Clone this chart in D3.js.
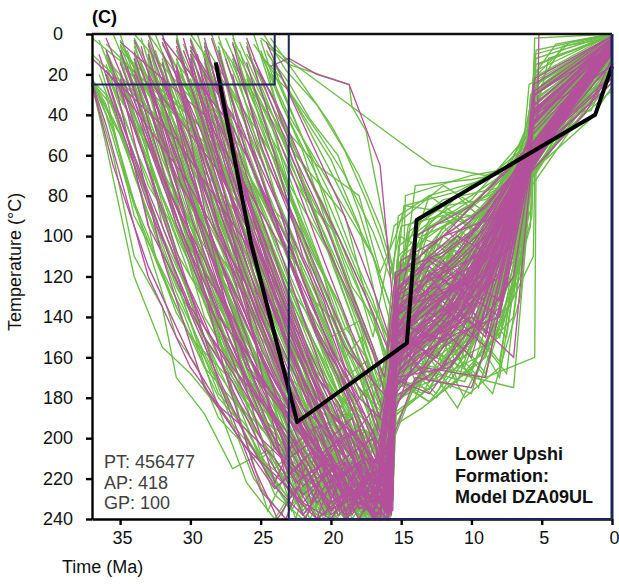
<!DOCTYPE html>
<html lang="en">
<head>
<meta charset="utf-8">
<title>Lower Upshi Formation: Model DZA09UL</title>
<script src="https://cdn.jsdelivr.net/npm/d3@7"></script>
<style>
  body { margin: 0; background: #fff; }
  svg { display: block; font-family: "Liberation Sans", Arial, sans-serif; }
  .axis path, .axis line { stroke: #000; stroke-width: 2.4px; }
  .axis text { font-size: 18px; fill: #111; }
  .tpath { fill: none; stroke-width: 1.35px; stroke-linejoin: miter; }
</style>
</head>
<body>
<div id="chart"></div>
<script>
// time in Ma, temperature in degC; each path is a flat list t,T,t,T,...
// paths start at a node inside the first constraint box
var xTicks = [35, 30, 25, 20, 15, 10, 5, 0];
var yTicks = [0, 20, 40, 60, 80, 100, 120, 140, 160, 180, 200, 220, 240];

// constraint boxes [tOld, tYoung, Tlow, Thigh]
var box1 = [37, 24, 0, 25];
var box2 = [23, 0, 0, 240];

var stats = ["PT: 456477", "AP: 418", "GP: 100"];
var modelLabel = ["Lower Upshi", "Formation:", "Model DZA09UL"];

var bestPath = [28.2,14, 25.7,103, 22.4,192, 14.6,153, 13.9,92, 1.2,40, 0,16];

// acceptable paths (green)
var acceptable = [
  [37,22, 35.5,48, 34,85, 32,120, 30,150, 27,172, 24,205, 21,228, 19,214, 17,236, 15.6,226, 15.3,150, 13.5,168, 12,128, 10.5,150, 9,96, 6,64, 5.8,40, 0,4],
  [33,4, 31,60, 29,92, 26,140, 24,176, 22,220, 20,198, 18.5,234, 16.2,212, 15.5,140, 13,160, 11.5,105, 10,118, 7.5,92, 6.2,70, 5.9,38, 0,2],
  [32,12, 30,70, 28,110, 25,130, 23,185, 21,210, 19.5,232, 17,224, 15.7,238, 15.4,168, 13.5,120, 12,100, 8,120, 6,60, 5.5,30, 0,5],
  [29,8, 27,65, 25,118, 23,150, 21,200, 19,188, 17.5,226, 16,215, 15.2,140, 13.5,118, 12,150, 10,95, 8.5,125, 6.1,55, 0,3],
  [35,10, 33,45, 31,95, 28,128, 25,185, 22,204, 20,236, 18,225, 15.8,238, 15.4,160, 13,130, 11,172, 8,112, 6,75, 5.7,45, 0,8],
  [37,24, 36,40, 34.5,75, 33,100, 31,138, 29,160, 26,200, 23,230, 21,212, 19,238, 16,222, 15.6,165, 13,135, 11,150, 8.5,118, 5.8,80, 5.5,48, 0,10],
  [34,2, 32,30, 30,40, 28,88, 26,120, 23,170, 21,182, 19,215, 17.6,196, 15.6,205, 15.1,120, 12,140, 8,90, 6,58, 4.5,12, 0,1],
  [32,15, 30,52, 29,75, 27,110, 25,140, 22,190, 20.5,222, 18.8,200, 17,228, 15.9,232, 15.5,175, 14,165, 12.5,128, 10,125, 6.2,62, 5.6,42, 0,4],
  [29,24, 27,80, 25,100, 24,135, 22,150, 20,180, 18,168, 16.2,210, 15.4,150, 12,115, 10,150, 8,100, 6,65, 0,6],
  [26,4, 24,50, 22,100, 20.5,120, 19,160, 17.8,150, 16.5,195, 15,130, 13,95, 9,88, 6.1,48, 0,2],
  [25,10, 23,40, 20,75, 17,110, 15.5,140, 14,100, 10,82, 6,50, 5.2,20, 0,0],
  [27,2, 25,30, 22.5,60, 19,90, 17.5,130, 16,160, 14.8,85, 11,78, 6,60, 5.5,35, 0,3],
  [30,18, 28,70, 26.5,98, 25,120, 22,165, 20,210, 18,200, 16.2,236, 15.8,180, 13,140, 11,112, 8,135, 6,70, 5.8,50, 0,5],
  [33,22, 31,85, 29.5,118, 28,150, 25.5,190, 24,215, 22,202, 20,240, 18,220, 16,225, 15.3,180, 12,165, 8,150, 5.7,90, 5.6,55, 0,12],
  [35,3, 33,30, 31,50, 29,110, 26,165, 23,210, 21,195, 18,236, 15.8,215, 15.6,140, 13,118, 11.5,145, 10,105, 6.1,62, 0,7],
  [37,25, 35.5,60, 34,110, 32,135, 31,170, 29,188, 27,215, 24.5,206, 22,238, 19.5,218, 17.5,228, 15.7,190, 12,170, 9,142, 6,75, 5.7,40, 0,3],
  [28,6, 26,60, 24.5,88, 23,110, 21,150, 20,165, 18.5,185, 17,205, 15.2,160, 13,120, 11,160, 8.5,110, 6,58, 0,1],
  [31,4, 28,50, 26.5,70, 25,95, 23.5,128, 22,150, 19,190, 17.5,176, 16,205, 15.5,125, 12,140, 9,105, 6.3,52, 5.8,35, 0,2],
  [24.5,18, 23.5,45, 21,65, 18,80, 16.5,118, 15.4,100, 14.7,85, 10,90, 6.2,65, 5.6,45, 0,6],
  [24.5,6, 23,15, 18.7,25, 18.5,36, 17.5,48, 15.5,120, 14,95, 10,75, 6,60, 5.6,38, 0,4],
  [25,2, 23,13, 14.4,57, 12.8,65, 9,70, 6.1,63, 5.8,30, 0,3],
  [30,20, 28,40, 27,55, 25,80, 23,95, 21.5,130, 20,140, 17,185, 15.6,175, 15.2,110, 11,80, 8,100, 6,58, 0,5],
  [34,18, 32,62, 30,95, 27,140, 25,165, 23,200, 21,218, 19,232, 16.8,220, 15.9,236, 15.5,150, 12,132, 6,72, 5.6,52, 0,9],
  [33,12, 30,65, 28,90, 26,120, 24,150, 22,175, 20,190, 18,212, 16,240, 15.5,200, 13,155, 10,168, 7,100, 5.9,60, 0,2],
  [32,2, 29,45, 27.5,62, 26,90, 24,118, 23,140, 21,172, 20,185, 18.5,205, 16.8,230, 15.4,135, 12,130, 9,148, 6,70, 0,5],
  [37,23, 36,30, 34,90, 32.5,110, 31,135, 28,180, 26,196, 24,220, 22,212, 20,236, 18,224, 16,236, 15.7,165, 10,130, 5.9,68, 5.5,40, 0,4],
  [34,6, 31,55, 29.5,72, 28,100, 25,150, 23,170, 21,195, 19,188, 17,225, 15.6,170, 14.5,115, 9,125, 6,60, 0,1],
  [29,14, 27,65, 25,110, 23.5,128, 22,160, 20,175, 18.5,205, 15.8,190, 15.5,140, 12,110, 9,92, 6,55, 5,25, 0,0],
  [33,10, 31,65, 29.5,98, 28,130, 25,190, 22,205, 20,228, 18.5,212, 17,240, 16,210, 15.6,150, 12,142, 9,170, 5.5,160, 5.4,60, 0,8],
  [27,12, 25,60, 23.5,90, 22,130, 20.5,150, 19,175, 17.8,168, 16.5,220, 15.3,175, 13,170, 10,178, 8,130, 6,75, 0,3],
  [35,20, 32,80, 30.5,104, 29,140, 26,175, 24,190, 22,215, 20,204, 18,238, 15.9,235, 15.7,180, 14,150, 11.5,175, 7,140, 5.7,70, 0,6],
  [30,3, 28,40, 26,80, 24.5,100, 23,125, 21.5,140, 20,165, 18.5,178, 17,200, 15.5,160, 14,120, 10,108, 6.2,48, 5.9,25, 0,1],
  [31,22, 29.5,58, 28,95, 26,128, 24,165, 21,215, 19.5,200, 18,240, 16.8,218, 15.6,225, 15.2,165, 12,140, 9,118, 6,62, 5.5,35, 0,5],
  [36,15, 33,75, 31.5,92, 30,120, 28,138, 26,160, 23,190, 21,205, 19,220, 17.5,212, 16,235, 15.6,190, 13,175, 8,120, 5.8,75, 5.6,50, 0,11],
  [26,22, 24.5,48, 22,80, 19.5,100, 18,126, 17,150, 15.5,95, 12,75, 9,88, 6,50, 5.5,25, 0,2],
  [37,24, 35,50, 33.5,78, 32.5,110, 30.5,138, 29,165, 26.5,185, 24,200, 21,230, 19,216, 17,232, 15.6,205, 15.2,140, 11,100, 8.5,118, 6,66, 0,7],
  [33,0, 30,30, 28.5,58, 27,90, 24,150, 22.5,170, 21,200, 19.5,188, 18.5,236, 15.8,225, 15.4,130, 13,80, 10,95, 6,60, 5.6,30, 0,3],
  [34,8, 32,48, 30,85, 28,112, 26,145, 23,185, 21,196, 19,215, 17.5,205, 15.9,200, 15.6,155, 14,165, 10.5,172, 6.5,120, 5.8,60, 0,2],
  [32,18, 30.5,50, 29,90, 26,130, 24,160, 22,180, 20,210, 18,230, 16.2,222, 15.4,160, 11.5,110, 9,132, 6,62, 0,4],
  [28,1, 26,45, 24,90, 22.5,108, 21,130, 19.5,160, 18,175, 16,190, 15.3,120, 13.5,140, 10,120, 7,75, 5.9,40, 0,1],
  [37,22, 36,35, 33.5,95, 31,150, 29.5,165, 28,190, 25,212, 23,230, 20.5,218, 18,236, 15.8,240, 15.6,170, 12.5,150, 9,112, 6,70, 5.7,42, 0,6],
  [30,8, 27,70, 25.5,105, 24,140, 22,165, 20,200, 18.5,188, 17,225, 15.7,212, 15.3,150, 12,162, 9.5,130, 6,57, 0,3],
  [31,20, 29,60, 27.5,85, 26,115, 24.5,140, 23,175, 20,220, 18,208, 16.5,235, 15.5,180, 12,165, 9,140, 6.3,85, 5.8,55, 0,8],
  [35,5, 32,40, 30.5,66, 29,95, 26,155, 24,178, 22,200, 19.5,190, 17.5,220, 15.6,160, 13,105, 10,128, 6,64, 5.2,15, 0,0],
  [29,10, 27,50, 24,100, 22,118, 20,150, 18,142, 16.5,175, 15,110, 11,90, 8,112, 6.1,60, 0,5],
  [34,14, 31,75, 28,135, 25,170, 23,188, 21,205, 18,225, 16.2,215, 15.6,145, 12,125, 8,150, 5.8,95, 5.7,60, 0,5],
  [37,25, 36,55, 34,120, 32,155, 30,168, 28,185, 25,210, 22.5,225, 20,235, 18,214, 16,228, 15.4,175, 13,150, 10,138, 6,70, 0,9],
  [33,25, 31.5,70, 30,105, 28.5,130, 27,160, 25,182, 23,210, 21,228, 19,238, 17.8,222, 16.5,240, 15.8,195, 13.5,185, 9,160, 5.7,85, 5.5,45, 0,6],
  [25,3, 23.5,35, 21,70, 19.5,95, 18,120, 16,150, 15.2,90, 13,80, 9,72, 6,55, 5.3,28, 0,2],
  [27,5, 24.5,40, 22,90, 20.5,118, 19,145, 17.5,160, 16.5,185, 15.6,140, 14,100, 10,110, 6,60, 0,4],
  [33,3, 30,55, 27,120, 25.5,150, 24,180, 21,225, 19.5,210, 17.5,240, 15.7,230, 15.5,160, 14,150, 10,155, 6,72, 5.6,40, 0,3],
  [36,10, 33,65, 31.5,88, 30,115, 27,170, 24,200, 22,238, 20,222, 17,230, 16,200, 15.3,130, 11,118, 7.5,100, 5.9,60, 0,7],
  [30,14, 28,80, 26.5,110, 25,145, 22,195, 20.5,208, 18,215, 15.8,222, 15.5,170, 12,150, 9.5,175, 6.5,110, 5.8,65, 0,5],
  [31,8, 28,60, 26.5,92, 25,125, 23,158, 21,185, 18.5,200, 17,228, 16,236, 15.4,140, 12,95, 9,118, 6,58, 5.4,25, 0,1],
  [35,12, 33,52, 31,90, 28,145, 25.5,168, 23,190, 21.5,214, 20,232, 17,238, 15.9,210, 15.5,155, 14.5,110, 10,132, 6,65, 0,6],
  [34,24, 32,72, 30,110, 27,165, 25.5,180, 24,205, 21.5,218, 19,228, 17.5,215, 16,238, 15.6,185, 11,145, 6.1,70, 5.5,35, 0,4],
  [28,18, 26,75, 23,130, 21.5,150, 20,175, 18,190, 16.8,210, 15.5,165, 14,130, 11,150, 8,105, 6,62, 0,3],
  [24.2,20, 23,28, 21,55, 19.5,75, 17,110, 15,150, 14.7,80, 10,70, 6,65, 5.5,40, 0,4],
  [33,17, 30,60, 28,82, 26,110, 23,160, 21.5,180, 20,210, 18,198, 16.5,230, 15.6,185, 13,165, 11,185, 8,145, 5.6,110, 5.5,70, 0,10],
  [32,5, 29,40, 27.5,72, 26,100, 24,130, 22,165, 19,205, 17.5,196, 16,220, 15.2,145, 12.5,120, 9,100, 6,60, 0,2],
  [30,2, 27,55, 25.5,88, 24,120, 22,158, 20,190, 18.5,178, 17,225, 15.6,170, 13.5,178, 12,160, 10.5,180, 8,165, 6,70, 0,5],
  [34,24, 32,95, 29,150, 27,170, 25,195, 23,210, 21,236, 19,220, 17.5,238, 16,232, 15.6,200, 15.3,160, 11,168, 7,175, 5.6,60, 0,2],
  [31,12, 28,70, 25,130, 23,152, 21,170, 18,195, 15.8,205, 15.5,130, 12.5,110, 10,100, 5.7,48, 5.5,2, 0,0],
  [36,20, 34,70, 31,125, 29,150, 27,180, 25,200, 23,220, 21,210, 19,240, 17.5,226, 15.9,228, 15.6,165, 13,125, 9,95, 6,60, 5.4,15, 0,1],
  [29,5, 26,40, 24.5,65, 23,85, 20,135, 18.5,158, 17,180, 15.4,150, 14,120, 12,165, 9,170, 6,65, 0,3],
  [37,24, 35,40, 32,100, 30,130, 28,160, 25,210, 23,200, 21,225, 19,215, 17,240, 15.6,210, 15.4,120, 12,135, 8,95, 6,60, 0,5],
  [32,10, 29,70, 27.5,100, 26,135, 24,170, 22,200, 20,215, 18,232, 16.2,238, 15.5,155, 12.8,140, 9,125, 6.2,60, 5.9,42, 0,8],
  [27,24, 25,70, 23.5,95, 22,120, 20.5,145, 19,170, 17.5,162, 16,185, 15.3,115, 12,110, 9,130, 6,70, 0,6],
  [36,12, 33,55, 30,100, 28.5,125, 27,150, 24,195, 22,205, 20,220, 18,210, 16.3,225, 15.7,180, 14,140, 10,122, 6,66, 5.8,32, 0,3],
  [33,8, 31,65, 28,120, 26,150, 24,175, 22,196, 20,215, 18.5,200, 17,236, 15.5,195, 13,160, 10,140, 6.8,90, 5.9,50, 0,4],
  [24.8,12, 23.5,22, 22,40, 20,62, 18,95, 16.5,140, 15.2,165, 12,125, 9,110, 6.2,68, 5.7,45, 0,5],
  [24.6,8, 22.8,30, 21,48, 19,70, 17,98, 15.8,120, 15,95, 11,88, 7,72, 6,55, 5.6,36, 0,3],
  [25.5,15, 24,38, 22,65, 20,95, 18.5,125, 17,140, 15.5,178, 13,150, 10,125, 6,62, 0,4],
  [26,10, 24,32, 22.5,58, 20.5,85, 19,112, 17.5,135, 15.7,165, 14.5,130, 11,155, 8,120, 6,68, 5.8,44, 0,6],
  [25,25, 23.3,55, 21.5,88, 19.5,118, 17.5,150, 16,172, 15.4,135, 12,98, 9,80, 6,58, 0,2],
  [35,6, 33,38, 31.5,58, 30,80, 28,115, 26,138, 24,168, 22,190, 20,182, 18,218, 16,205, 15.4,172, 13,182, 10,165, 7,130, 5.9,72, 5.6,46, 0,7],
  [34,15, 32,55, 30,95, 28,125, 26,158, 24,186, 22,222, 20,240, 18,232, 16.4,240, 15.8,170, 12,145, 8,120, 6,64, 0,3],
  [31,12, 29,50, 27,82, 25,115, 23,142, 21,176, 19,196, 17,214, 15.7,200, 15.4,145, 13,105, 9,85, 6,56, 5.5,22, 0,1],
  [37,24, 35.5,42, 33.5,72, 32,104, 30,142, 28,178, 26,194, 24,228, 22,240, 20,225, 18,235, 16,228, 15.7,160, 14,125, 10,150, 6.5,95, 5.8,58, 0,5],
  [35,18, 33,60, 31,108, 29,132, 27,162, 25,178, 23,198, 21,186, 19,222, 17,216, 15.8,224, 15.5,135, 12,155, 9,120, 6,66, 0,4],
  [36.5,3, 35,30, 33,62, 31,100, 29,128, 27,158, 25,190, 23,215, 21,238, 19,222, 17,238, 15.6,212, 15.4,148, 13,128, 11,165, 9,130, 6,72, 5.5,20, 4,5, 0,0],
  [35.5,0, 34,25, 32,58, 29.5,90, 27,135, 24.5,170, 22,208, 20,196, 18,226, 16,240, 15.5,168, 14,108, 12,138, 9.5,92, 6,58, 0,6],
  [34.5,8, 33,35, 31,72, 28,108, 26,132, 24,162, 22,184, 20,220, 18.5,205, 16.5,228, 15.6,176, 13,148, 10.5,115, 8,150, 6,76, 5.6,48, 0,12],
  [32.5,0, 31,28, 29,62, 27,98, 25,136, 23,178, 21,206, 19,240, 17.5,212, 15.8,226, 15.3,118, 12,90, 9,108, 6.2,62, 5.5,28, 3.5,6, 0,2],
  [30.5,5, 29,32, 27,58, 25,96, 23,128, 21,162, 19,186, 17.5,200, 16,232, 15.4,158, 12.5,178, 10,146, 7.5,168, 6,80, 5.7,58, 0,15],
  [29.5,12, 28,38, 26,72, 24,108, 22,142, 20,168, 18,205, 16.5,214, 15.5,145, 13,135, 11,98, 8,88, 6,52, 5.4,12, 0,0],
  [28.5,0, 27,30, 25,62, 23,95, 21,128, 19.5,152, 18,180, 16.5,170, 15.6,196, 15.2,105, 12,88, 9,100, 6,60, 0,4],
  [27.5,9, 26,35, 24,68, 22,104, 20,138, 18,168, 16.8,196, 15.6,182, 15.3,125, 13,92, 10,80, 7,66, 6,48, 5.5,30, 0,3],
  [26.5,16, 25,42, 23,78, 21,112, 19,140, 17.5,172, 16,200, 15.5,150, 13,160, 11,120, 8,135, 6,70, 0,8],
  [36,8, 34,40, 32,68, 30,112, 28,152, 26,182, 24,196, 22,226, 20,214, 18,240, 16,218, 15.6,182, 14,176, 11,136, 8,162, 6,78, 5.6,52, 0,9],
  [31.5,25, 30,52, 28,92, 26,120, 24,155, 22,192, 20,206, 18,196, 16.5,220, 15.4,130, 13,112, 10,138, 7,96, 6,62, 5.4,18, 0,0],
  [36,18, 34,55, 32,88, 30,132, 28,168, 26,188, 24,212, 22,234, 20,226, 17.5,236, 15.7,220, 15.5,160, 12,118, 9,105, 6,62, 0,5],
  [33.5,15, 32,42, 30,78, 28,118, 26,148, 24,184, 22,198, 20,212, 18,240, 16,226, 15.4,165, 13,128, 10.5,165, 8,118, 6.1,70, 0,7],
  [24.3,2, 22.5,20, 20,45, 18,70, 16.5,95, 15,130, 14,75, 10,72, 7,68, 6,60, 5.6,22, 3,4, 0,0],
  [29,20, 27.5,48, 25.5,82, 23.5,118, 21.5,148, 19.5,178, 17.5,192, 16,210, 15.3,140, 13,168, 10,150, 7,110, 6,68, 0,4],
  [24.5,10, 23,24, 21.5,42, 19.5,60, 18,88, 16.8,115, 15.6,148, 14.8,120, 12,96, 9,78, 6,62, 5.5,40, 1.5,38, 0,14],
  [25.5,5, 24,20, 22,52, 20,80, 18.5,108, 17,132, 15.8,158, 15.2,125, 13,140, 11,102, 8,115, 6,66, 0,18],
  [26,20, 24.5,42, 22.5,70, 20.5,98, 19,122, 17.5,148, 16.2,175, 15.5,132, 12.5,118, 10,136, 6.5,90, 5.8,55, 0,10],
  [24.8,0, 23.2,18, 21,35, 19,58, 17.5,82, 16.5,100, 15.2,128, 14.5,95, 12,82, 8,76, 6,64, 5.5,10, 0,0],
  [27,15, 25.5,38, 23.5,72, 21.5,105, 19.5,132, 18,160, 16.5,185, 15.6,165, 15.2,118, 12.5,135, 9,102, 6,60, 0,20],
  [25,8, 23.8,30, 22,58, 20.5,90, 19,118, 17.8,145, 16.4,168, 15.4,140, 13.5,108, 11,120, 7,88, 6,60, 5.6,42, 0,22],
  [26.5,4, 25,28, 23.5,50, 21.5,82, 20,112, 18.5,140, 17,168, 15.8,190, 15.4,140, 13,150, 10,118, 6.2,70, 0,12],
  [24.2,14, 23,35, 21.5,60, 20,92, 18.3,118, 17,138, 15.7,170, 15.1,100, 12,112, 9,90, 6,58, 5.6,36, 2,30, 0,8],
  [25.8,22, 24.3,50, 22.8,80, 21,110, 19.5,140, 18,165, 16.6,192, 15.6,150, 14,132, 11.5,142, 8.5,96, 6,64, 0,16],
  [27.5,2, 26,26, 24,58, 22.5,88, 21,120, 19.5,148, 18,176, 16.8,198, 15.5,162, 13,118, 10,98, 6,56, 0,6],
  [31,0, 29.5,40, 27.5,88, 26,124, 24.5,156, 23,186, 21.5,220, 20,206, 18.5,232, 17,214, 15.8,236, 15.3,142, 12,160, 9,135, 6,70, 0,24],
  [29,18, 27,62, 25,100, 23.5,140, 22,170, 20.5,196, 19,230, 17.5,208, 16.2,240, 15.6,188, 14,180, 12,145, 8,128, 6,72, 2,36, 0,12],
  [33,14, 31,52, 29,96, 27,136, 25,176, 23.5,198, 22,236, 20,218, 18,240, 16.5,220, 15.7,214, 15.4,152, 12.5,104, 9,122, 6,62, 0,18],
  [28,10, 26.5,52, 25,90, 23,132, 21,168, 19,198, 17.5,226, 16.5,208, 15.6,232, 15.2,150, 13,128, 10.5,160, 7,112, 6,66, 5.5,28, 0,2],
  [30,22, 28,68, 26,110, 24,146, 22,182, 20,214, 18.5,198, 17,220, 15.7,218, 15.4,135, 12,152, 9,110, 6,64, 0,14],
  [35,0, 33.5,32, 31.5,76, 29.5,112, 27.5,152, 25.5,178, 23.5,208, 21.5,196, 19.5,226, 17.5,236, 16,212, 15.5,170, 13,182, 10,155, 7,120, 6,70, 0,20],
  [32,25, 30,72, 28,116, 26,152, 24,182, 22,210, 20,240, 18.5,222, 17,238, 15.8,208, 15.5,160, 12,128, 9,150, 6,70, 1.5,42, 0,26],
  [27,0, 25.5,42, 24,78, 22,118, 20,152, 18,190, 16.5,212, 15.5,182, 15.1,130, 12,118, 9,88, 6,56, 0,8],
  [30,6, 28.5,46, 26.5,92, 24.5,128, 22.5,158, 20.5,186, 18.5,216, 17,200, 15.9,226, 15.4,156, 13,170, 10,132, 7.5,150, 6,76, 5.6,50, 0,22],
  [34,4, 32.5,40, 30.5,82, 28.5,122, 26.5,160, 24.5,194, 22.5,210, 20.5,238, 18.5,228, 16.5,240, 15.6,196, 15.3,148, 12,120, 9,96, 6,60, 0,10],
  [31,16, 29,60, 27,104, 25,144, 23,172, 21,202, 19,186, 17,218, 15.6,178, 14.5,98, 12,85, 9,82, 6,68, 5.6,26, 0,2],
  [29.5,0, 28,36, 26,78, 24,120, 22,162, 20,190, 18,216, 16.5,200, 15.5,146, 14,172, 12.5,180, 10.5,162, 8.5,178, 6.5,130, 5.8,72, 0,16],
  [26.5,8, 25,44, 23,84, 21,126, 19,160, 17.5,184, 16,198, 15.4,160, 13.5,100, 11,92, 8,70, 6,50, 5.5,32, 0,6],
  [32.5,8, 30.5,50, 28.5,94, 26.5,130, 24.5,168, 22.5,196, 20.5,224, 18.5,212, 16.8,236, 15.6,170, 13,176, 11,150, 9,168, 6.5,110, 5.8,76, 0,18],
  [28,22, 26,66, 24,104, 22,140, 20,172, 18,196, 16.2,224, 15.5,160, 13.5,138, 11.5,108, 9,126, 6,62, 0,10],
  [33.5,2, 32,36, 30,76, 28,118, 26,150, 24,178, 22,214, 20,230, 18,214, 16.2,232, 15.5,152, 14,140, 11,110, 8,96, 6,60, 5.4,8, 0,0],
  [27.5,20, 26,56, 24,94, 22,130, 20,162, 18.5,182, 17,196, 15.7,184, 15.3,112, 13,126, 10,92, 7,80, 6,58, 0,12],
  [36.5,14, 35,48, 33,90, 31,128, 29,158, 27,186, 25,212, 23,234, 21,222, 19,240, 17,226, 15.7,228, 15.4,138, 12.5,148, 10,120, 6,66, 0,20],
  [30.5,14, 29,54, 27,98, 25,138, 23,176, 21,208, 19,236, 17.5,218, 16,234, 15.5,174, 13,162, 10.5,140, 8,170, 6,80, 5.7,62, 0,28],
  [25.5,0, 24,32, 22,72, 20,108, 18.5,136, 17,164, 15.8,180, 15.3,148, 13,96, 10,84, 7,74, 6,62, 5.4,28, 0,4],
  [36,5, 30,45, 24,110, 20,190, 17,236, 15.6,210, 15.2,130, 10,110, 6,62, 0,8],
  [35,15, 28,60, 23,140, 19,225, 16.5,200, 15.4,150, 12,120, 6,66, 0,12],
  [37,10, 31,50, 26,95, 22,180, 18.5,240, 16,215, 15.4,160, 11,140, 6,70, 0,5],
  [34,0, 27,55, 22,120, 18,200, 16.2,232, 15.5,150, 13,132, 6,60, 0,3],
  [36,20, 31,80, 27,130, 23,200, 20,240, 17,218, 15.5,170, 12,150, 6,66, 0,10],
  [33,18, 26,70, 21,150, 17.5,215, 15.8,238, 15.3,140, 10,120, 6,64, 0,6],
  [30,0, 25,50, 20,110, 17,170, 15.5,200, 15.1,130, 11,100, 6,58, 0,2],
  [37,2, 32,30, 27,75, 23,150, 20.5,205, 17.5,238, 15.6,190, 15.3,145, 9,120, 6,62, 0,14],
  [35,8, 29,48, 25,100, 22,165, 19,220, 16.5,240, 15.6,170, 13,150, 6,68, 0,7],
  [31,14, 26,60, 22,130, 18.5,190, 16,225, 15.4,145, 12,110, 6,60, 0,4],
  [28,4, 24,45, 20,100, 17,155, 15.6,185, 15.2,120, 10,95, 6,56, 0,2],
  [36,12, 30,62, 25,120, 21,185, 18,232, 15.8,226, 15.4,158, 11,128, 6,68, 0,9],
  [33,5, 29,90, 26,160, 24,210, 22.5,240, 21,205, 20,238, 18.8,210, 17.5,240, 16.5,215, 15.7,236, 15.4,150, 12,130, 6,64, 0,5],
  [35,20, 31,110, 28,175, 25.5,220, 23.5,238, 22,212, 20.8,240, 19.5,218, 18,238, 16.8,222, 15.9,240, 15.5,170, 11,150, 6,66, 0,8],
  [30,10, 27,95, 24.5,170, 22.5,228, 21.2,205, 20,236, 18.6,215, 17.2,240, 16.2,225, 15.6,180, 13,172, 9,158, 6,70, 0,4],
  [32,24, 29,120, 26.5,190, 24.5,236, 23,215, 21.5,240, 20,220, 18.5,236, 17,212, 16,238, 15.4,165, 12,140, 6,62, 0,10],
  [36.5,20, 32,100, 28,185, 26,222, 24,240, 22.2,220, 21,240, 19.2,226, 17.8,240, 16.5,228, 15.6,205, 15.3,155, 10,130, 6,64, 0,6],
  [29,4, 26.5,90, 24,160, 22.8,200, 21.5,236, 20.2,214, 19,238, 17.8,220, 16.6,238, 15.8,215, 15.5,172, 12.5,160, 8.5,140, 6,68, 0,3],
  [34,10, 30.5,95, 27,160, 24.8,212, 22.8,236, 21.8,222, 20.5,240, 19,222, 17.5,236, 16.2,218, 15.5,160, 13,140, 6,60, 0,7],
  [31,2, 28,80, 25.5,148, 23.5,196, 22,228, 20.8,214, 19.6,240, 18.2,226, 17,240, 15.9,230, 15.4,145, 11,120, 6,60, 0,2]
];

// good paths (magenta)
var good = [
  [30,12, 28.5,48, 27,85, 25.5,118, 24,150, 22,195, 20,230, 18.5,212, 16,235, 15.4,150, 12.5,135, 10,110, 6,62, 5.6,45, 0,4],
  [33,5, 31,42, 30,70, 27,130, 25,158, 23,185, 21,205, 19,225, 17.5,210, 15.8,215, 15.6,140, 13,160, 9,118, 6,65, 0,6],
  [29,2, 27,55, 25.5,88, 24,115, 21,170, 19.5,182, 18,210, 17,196, 15.7,238, 15.4,170, 12,130, 8,102, 6,60, 5.5,30, 0,3],
  [35,22, 32,90, 30.5,120, 29,145, 25,190, 23.5,205, 22,228, 19.5,214, 17,232, 15.6,190, 14.8,150, 11,135, 6,68, 0,5],
  [37,24, 36,45, 33,120, 30,165, 28,184, 26,196, 24,210, 22,232, 20,240, 18,218, 16,225, 15.5,160, 11,140, 8,118, 6,70, 5.7,40, 0,2],
  [26,14, 24,60, 22,110, 20.5,132, 19,165, 17.5,180, 16.5,200, 15.3,140, 13,110, 9,125, 6,58, 0,3],
  [31,18, 29.5,48, 28,80, 25,140, 23.5,162, 22,185, 20,210, 18.5,238, 17,220, 15.9,225, 15.5,155, 12,150, 9,130, 6,62, 0,4],
  [34,3, 31,50, 29.5,78, 28,110, 25,160, 23,184, 21,205, 19,222, 17,238, 15.6,200, 14,170, 10,175, 7.5,125, 6,70, 5.7,48, 0,6],
  [28,8, 26,60, 23.5,100, 21,150, 19.5,165, 18,195, 17,186, 15.7,215, 15.4,130, 12,115, 9,96, 6,55, 5.6,25, 0,1],
  [32,14, 29,90, 27.5,120, 26,150, 23,210, 21,200, 19,240, 17.5,222, 16,228, 15.5,165, 13,140, 10,160, 6,64, 0,4],
  [30,6, 27,40, 24,95, 22.5,118, 21,140, 19.5,162, 18,180, 15.8,195, 15.4,120, 12,100, 8,90, 5.3,40, 5.2,0, 0,0],
  [24.3,16, 23,12, 21,20, 18.7,25, 16.5,65, 15.5,140, 14,100, 10,85, 6,58, 0,3],
  [34,12, 31,80, 29.5,108, 28,140, 26,158, 24,180, 22,196, 20,215, 18,205, 16.5,238, 15.6,185, 12,155, 9,140, 6,68, 5.8,45, 0,5],
  [33,24, 31,62, 29,100, 26,165, 24,182, 22,200, 20,218, 18,230, 17,215, 15.9,240, 15.5,170, 11.5,165, 7,120, 5.7,62, 0,7],
  [27,10, 25,50, 23.5,78, 22,100, 19,150, 17.8,165, 16.5,190, 15.2,145, 13,125, 10,105, 6,60, 0,2],
  [31,6, 29.5,35, 28,65, 25,120, 23.5,145, 22,170, 20,198, 18,220, 16,236, 15.6,150, 14.5,120, 11,142, 6,63, 5.6,38, 0,4],
  [35,24, 32,110, 29,175, 26,205, 24,218, 22,232, 20,215, 18,240, 15.7,210, 15.4,160, 12,140, 9,112, 6,66, 0,6],
  [29,20, 27,75, 25.5,102, 24,130, 21,180, 19,195, 17.5,222, 15.6,230, 15.3,150, 10,120, 6,60, 5.5,35, 0,2],
  [32,9, 29,60, 27.5,92, 26,120, 23,175, 21.5,190, 20,225, 18,212, 16.2,228, 15.6,175, 13.5,165, 9,170, 6,68, 0,5],
  [30,3, 28,45, 26.5,80, 25,110, 23,146, 21,180, 19,196, 17,215, 15.5,185, 15.2,125, 11,100, 8,112, 6,57, 0,3],
  [36,25, 33,85, 30,135, 27,165, 24,190, 22,212, 20,236, 18,224, 16,220, 15.6,170, 14,145, 11,132, 6,70, 5.7,50, 0,8],
  [28,23, 26,80, 24.5,112, 23,140, 20,195, 18.5,210, 17,232, 15.8,205, 15.4,140, 12.5,125, 9,150, 6,62, 0,3],
  [34,18, 31,70, 29,96, 27,125, 24,170, 21,210, 19,198, 17,240, 15.5,160, 10,140, 7,160, 5.8,70, 5.6,40, 0,4],
  [31,15, 28,95, 26.5,125, 25,160, 22,205, 20.5,222, 19,238, 17.5,218, 15.9,220, 15.5,150, 13,130, 9.5,118, 6,60, 0,5],
  [27,4, 25,55, 22,105, 20.5,130, 19,155, 17.5,168, 16,180, 15.3,120, 12,100, 9,78, 6,56, 5.5,28, 0,1],
  [33,20, 30,90, 27,145, 25,170, 23,190, 21,208, 19,222, 16.5,240, 15.6,180, 11,160, 8,135, 6.2,72, 0,6],
  [37,25, 35.5,65, 33,115, 30,160, 27,195, 24,225, 22,212, 20,238, 18,226, 16,232, 15.5,150, 13,115, 10,135, 6,64, 0,3],
  [30,10, 27,60, 24,125, 22.5,152, 21,175, 19.5,195, 18,215, 16,225, 15.4,140, 12,120, 9,100, 6,60, 5.6,40, 0,2],
  [32,22, 29,75, 26,140, 24.5,168, 23,195, 21.5,214, 20,235, 17,225, 15.7,170, 13,178, 10,150, 6,66, 0,5],
  [29,6, 26,70, 23,130, 21.5,158, 20,180, 18.5,196, 17,210, 15.6,218, 15.3,145, 11,125, 8,140, 6,62, 5.7,44, 0,4],
  [34,9, 31,60, 28,125, 26.5,152, 25,180, 23,198, 21,220, 19,212, 16.8,235, 15.5,165, 12,145, 9,126, 6,68, 0,3],
  [33,25, 30,100, 27,155, 24,205, 22,218, 20,232, 18,222, 16,240, 15.6,190, 14,160, 11,148, 8,140, 5.8,66, 0,7],
  [28,15, 26,85, 23,150, 21.5,172, 20,200, 18.5,190, 17,228, 15.5,200, 15.2,135, 10,115, 6,58, 0,2],
  [31,3, 28,70, 25,135, 23.5,158, 22,185, 20,198, 18.5,225, 15.8,235, 15.4,160, 12,135, 9,155, 6,64, 5.7,42, 0,5],
  [35.5,20, 33,95, 31,122, 29,150, 27,172, 25,200, 22,220, 20,210, 18,235, 15.7,225, 15.5,170, 13,150, 10,128, 6,70, 0,4],
  [25,20, 23.5,40, 21.5,72, 19.5,100, 17.5,130, 16,155, 15.4,118, 12,108, 9,92, 6,60, 5.6,35, 0,3],
  [35,8, 32,70, 29,118, 27,140, 25,172, 23,186, 21,214, 19.5,200, 17.5,232, 15.8,222, 15.5,145, 12,165, 8,110, 6,62, 0,5],
  [30,16, 28,62, 26,102, 24,138, 22,176, 20,204, 18,196, 16.5,226, 15.6,165, 13,138, 10,118, 6,58, 5.5,30, 0,2],
  [34,20, 31.5,78, 29,112, 27,146, 25,178, 23,206, 21,194, 19,230, 17,218, 15.7,236, 15.4,155, 12,122, 8,100, 6,66, 0,6],
  [32,4, 29,52, 27,96, 25,132, 23,162, 21,192, 19,210, 17,200, 15.9,228, 15.5,150, 13,172, 10,145, 6,68, 5.8,46, 0,4],
  [36.5,10, 35,42, 33,78, 31,112, 29,142, 27,176, 25,204, 23,226, 21,240, 19,228, 17,236, 15.6,198, 15.3,140, 12,112, 9,148, 6,66, 0,5],
  [33,0, 31.5,30, 29.5,68, 27.5,104, 25.5,138, 23.5,172, 21.5,198, 19.5,232, 17.5,206, 15.8,238, 15.4,150, 13,132, 10,120, 7,84, 6,60, 5.5,22, 0,1],
  [26,6, 24.5,38, 22.5,74, 20.5,112, 18.5,148, 17,172, 15.8,196, 15.4,128, 13,110, 10,92, 6,62, 0,3],
  [32,20, 30,58, 28,102, 26,132, 24,168, 22,198, 20,222, 18,212, 16,238, 15.6,178, 13.5,150, 11,128, 8,104, 6,64, 0,9],
  [28.5,2, 27,34, 25,70, 23,110, 21,146, 19,172, 17.5,190, 16,212, 15.4,142, 12,152, 9,118, 6,62, 5.5,38, 0,4],
  [35,14, 33,52, 31,94, 29,130, 27,158, 25,184, 23,218, 21,204, 19,236, 17,228, 15.7,232, 15.5,160, 13,138, 10,150, 6,70, 0,6],
  [29.5,18, 28,52, 26,90, 24,128, 22,160, 20,188, 18,200, 16.5,218, 15.5,140, 13,118, 10,130, 7,96, 6,62, 0,2],
  [36,2, 34,36, 32,74, 30,108, 28,138, 26,170, 24,192, 22,224, 20,208, 18,234, 16.2,238, 15.5,162, 12,140, 9,120, 6,66, 5.7,38, 0,5],
  [27.5,12, 26,42, 24,80, 22,122, 20,156, 18,182, 16.5,205, 15.3,132, 12,118, 9,108, 6,60, 0,3],
  [30.5,8, 28.5,44, 26.5,86, 24.5,124, 22.5,164, 20.5,190, 18.5,230, 16.8,210, 15.6,226, 15.4,148, 12.5,160, 9.5,128, 6,64, 0,6],
  [25.5,12, 24,34, 22.5,62, 20.5,92, 19,120, 17.5,146, 16.2,170, 15.4,130, 13,112, 10,126, 6,64, 0,14],
  [31.5,10, 29.5,54, 27.5,96, 25.5,134, 23.5,168, 21.5,196, 19.5,220, 17.5,210, 16,234, 15.5,158, 12,146, 9,110, 6,62, 1.5,34, 0,12],
  [28.5,16, 27,58, 25,98, 23,136, 21,172, 19,204, 17.5,222, 15.8,210, 15.4,146, 13,120, 10.5,140, 7,100, 6,60, 0,20],
  [34.5,16, 32.5,60, 30.5,100, 28.5,136, 26.5,170, 24.5,198, 22.5,222, 20.5,212, 18.5,236, 16.8,226, 15.6,200, 15.3,150, 12.5,130, 9.5,146, 6,68, 0,8],
  [24.6,4, 23.2,26, 21.5,52, 19.5,82, 18,108, 16.8,130, 15.6,155, 15,112, 12,100, 9,86, 6,60, 5.5,30, 0,6],
  [27,20, 25.5,60, 23.5,102, 21.5,140, 19.5,170, 18,194, 16.5,220, 15.6,190, 15.2,136, 12,128, 8.5,118, 6,64, 0,24],
  [30.5,2, 29,40, 27,84, 25,122, 23,156, 21,186, 19,214, 17,236, 15.8,220, 15.4,140, 13,152, 10,124, 7,104, 6,62, 5.6,40, 0,16],
  [33,10, 31,56, 29,100, 27,138, 25,174, 23,204, 21,232, 19,216, 17,240, 15.7,226, 15.5,166, 12,140, 9,116, 6,66, 0,10],
  [26,2, 24.5,30, 22.5,66, 20.5,102, 18.5,132, 17,158, 15.8,186, 15.3,126, 12.5,112, 9.5,96, 6,58, 0,2],
  [29,12, 27.5,50, 25.5,92, 23.5,130, 21.5,162, 19.5,190, 17.5,206, 16,228, 15.5,150, 13.5,166, 11,136, 8,120, 6,70, 2,40, 0,18],
  [36,20, 34,62, 32,100, 30,138, 28,170, 26,200, 24,224, 22,238, 20,220, 18,232, 16,240, 15.6,176, 12,150, 9,128, 6,66, 0,6],
  [32,0, 30.5,32, 28.5,76, 26.5,116, 24.5,152, 22.5,186, 20.5,210, 18.5,196, 17,222, 15.6,212, 15.3,144, 11,118, 8,132, 6,60, 0,22],
  [37,12, 31,52, 26,104, 22,172, 19,230, 16.5,215, 15.5,155, 12,135, 6,64, 0,6],
  [35,4, 29,40, 24,100, 20.5,170, 17.5,225, 15.8,232, 15.4,148, 10,118, 6,60, 0,4],
  [33,22, 28,68, 23.5,130, 20,195, 17,238, 15.6,180, 12.5,150, 6,66, 0,10],
  [30,8, 25.5,58, 21.5,120, 18,185, 16,218, 15.3,135, 11,110, 6,58, 0,3],
  [36,18, 30.5,70, 26,124, 22.5,188, 19.5,238, 16.8,222, 15.5,165, 12,140, 6,68, 0,8],
  [32,2, 27,46, 23,104, 19.5,165, 16.8,210, 15.5,160, 13,126, 6,62, 0,5],
  [36,8, 31.5,96, 28,172, 25,226, 23.2,240, 21.8,214, 20.4,238, 19,212, 17.6,236, 16.4,220, 15.6,236, 15.4,160, 12,138, 6,66, 0,6],
  [31,16, 28.5,104, 26,176, 24,222, 22.6,200, 21.4,232, 20,208, 18.8,240, 17.4,216, 16.2,236, 15.5,168, 11,140, 6,64, 0,4],
  [33.5,6, 30,100, 27.5,168, 25.5,214, 23.8,240, 22.4,224, 21,240, 19.6,214, 18.4,234, 17,216, 15.9,234, 15.4,152, 12,130, 6,62, 0,8],
  [29.5,10, 27,100, 24.8,172, 23.2,220, 21.8,240, 20.6,218, 19.4,236, 18,214, 16.8,240, 15.8,222, 15.5,170, 10,140, 6,68, 0,5]
];

var width = 619, height = 584;
var margin = {top: 34, right: 7, bottom: 65, left: 92};

var svg = d3.select("#chart").append("svg")
    .attr("width", width)
    .attr("height", height);

var x = d3.scaleLinear().domain([37, 0]).range([margin.left, width - margin.right]);
var y = d3.scaleLinear().domain([0, 240]).range([margin.top, height - margin.bottom]);

function pairs(flat) {
    var pts = [];
    for (var i = 0; i < flat.length; i += 2) pts.push([flat[i], flat[i + 1]]);
    return pts;
}

var line = d3.line()
    .x(function (d) { return x(d[0]); })
    .y(function (d) { return y(d[1]); });

svg.append("g")
    .selectAll("path")
    .data(acceptable)
    .enter().append("path")
    .attr("class", "tpath")
    .attr("stroke", "#6cbd48")
    .attr("d", function (d) { return line(pairs(d)); });

svg.append("g")
    .selectAll("path")
    .data(good)
    .enter().append("path")
    .attr("class", "tpath")
    .attr("stroke", "#b4519c")
    .attr("d", function (d) { return line(pairs(d)); });

svg.append("path")
    .attr("fill", "none")
    .attr("stroke", "#000")
    .attr("stroke-width", 4)
    .attr("stroke-linejoin", "round")
    .attr("d", line(pairs(bestPath)));

// axes
var xAxis = svg.append("g")
    .attr("class", "axis")
    .attr("transform", "translate(0," + y(240) + ")")
    .call(d3.axisBottom(x).tickValues(xTicks).tickSize(6).tickPadding(6).tickSizeOuter(0));
xAxis.selectAll("text").attr("dx", 2);

var yAxis = svg.append("g")
    .attr("class", "axis")
    .attr("transform", "translate(" + x(37) + ",0)")
    .call(d3.axisLeft(y).tickValues(yTicks).tickSize(6).tickSizeOuter(0));
yAxis.selectAll("text")
    .attr("text-anchor", "middle")
    .attr("x", -34);

// top frame
svg.append("line")
    .attr("x1", x(37)).attr("x2", x(0))
    .attr("y1", y(0)).attr("y2", y(0))
    .attr("stroke", "#111").attr("stroke-width", 2.4);

// constraint boxes
var navy = "#1c2458";
svg.append("path")
    .attr("fill", "none").attr("stroke", navy).attr("stroke-width", 2)
    .attr("d", "M" + x(box1[0]) + "," + y(box1[3]) + "H" + x(box1[1]) + "V" + y(box1[2]));
svg.append("path")
    .attr("fill", "none").attr("stroke", navy).attr("stroke-width", 2)
    .attr("d", "M" + x(box2[0]) + "," + y(box2[2]) + "V" + y(box2[3]) + "H" + x(box2[1]));
svg.append("line")
    .attr("x1", x(box2[1])).attr("x2", x(box2[1]))
    .attr("y1", y(box2[2])).attr("y2", y(box2[3]))
    .attr("stroke", navy).attr("stroke-width", 3);

// labels
svg.append("text")
    .attr("x", 92).attr("y", 23)
    .attr("font-size", 18).attr("font-weight", "bold")
    .text("(C)");

svg.append("text")
    .attr("transform", "translate(21,262) rotate(-90)")
    .attr("text-anchor", "middle")
    .attr("font-size", 18)
    .attr("fill", "#111")
    .text("Temperature (°C)");

svg.append("text")
    .attr("x", 62).attr("y", 573)
    .attr("font-size", 18)
    .attr("fill", "#111")
    .text("Time (Ma)");

svg.append("g").selectAll("text")
    .data(stats)
    .enter().append("text")
    .attr("x", 104)
    .attr("y", function (d, i) { return 468 + i * 20.5; })
    .attr("font-size", 18)
    .attr("fill", "#404040")
    .text(function (d) { return d; });

svg.append("g").selectAll("text")
    .data(modelLabel)
    .enter().append("text")
    .attr("x", 455)
    .attr("y", function (d, i) { return 460 + i * 21.5; })
    .attr("font-size", 18)
    .attr("font-weight", "bold")
    .attr("fill", "#111")
    .text(function (d) { return d; });
</script>
</body>
</html>
